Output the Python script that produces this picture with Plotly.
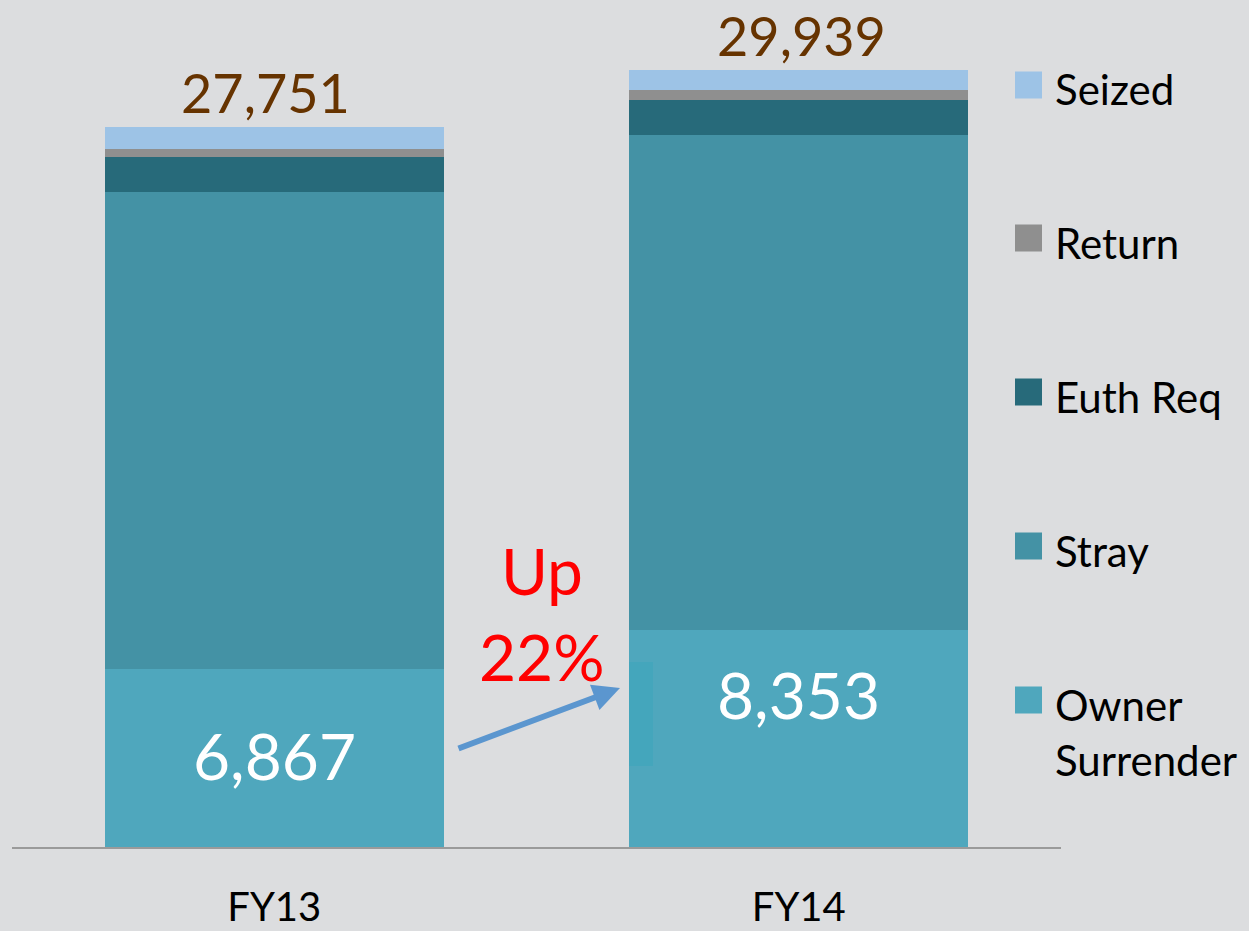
import plotly.graph_objects as go

# ---- data ----
categories = ["FY13", "FY14"]
owner_surrender = [6867, 8353]
stray = [18380, 19081]
euth_req = [1349, 1361]
returned = [285, 373]
seized = [870, 771]
totals = [27751, 29939]
series_names = ["Owner<br>Surrender", "Stray", "Euth Req", "Return", "Seized"]
series_values = [owner_surrender, stray, euth_req, returned, seized]
series_colors = ["#4FA7BD", "#4492A5", "#276A7A", "#8F8F8F", "#9DC3E6"]
change_label = ["Up", "22%"]

# ---- geometry ----
W, H = 1249, 931
ML, MR, MT, MB = 12, 188, 20, 84
PW, PH = W - ML - MR, H - MT - MB
YMAX = PH * 38.53

def py2y(py):
    return (H - MB - py) / PH * YMAX

def px2x(px):
    return (px - ML) / PW * 2 - 0.5

def pxp(px):
    return (px - ML) / PW

def pyp(py):
    return (H - MB - py) / PH

FONT = "Lato, 'Open Sans', sans-serif"

fig = go.Figure()
for name, vals, col in zip(series_names, series_values, series_colors):
    fig.add_trace(go.Bar(x=categories, y=vals, name=name.replace("<br>", " "),
                         marker=dict(color=col, line=dict(width=0)),
                         showlegend=False, hoverinfo="name+y"))

annotations = []
shapes = []

# totals above bars
total_xshift = [-9, 3]
for c, t, xs in zip(categories, totals, total_xshift):
    annotations.append(dict(x=c, y=t, xref="x", yref="y", text=f"{t:,}",
                            showarrow=False, yanchor="bottom", yshift=0, xshift=xs,
                            font=dict(family=FONT, size=54, color="#663300")))

# values inside owner surrender segment
inside_py = [755, 694]
for c, v, p in zip(categories, owner_surrender, inside_py):
    annotations.append(dict(x=c, y=py2y(p), xref="x", yref="y", text=f"{v:,}",
                            showarrow=False, yanchor="middle",
                            font=dict(family=FONT, size=64, color="white")))

# Up 22%
annotations.append(dict(x=px2x(542), y=py2y(570), xref="x", yref="y", text=change_label[0],
                        showarrow=False, font=dict(family=FONT, size=64, color="#FF0000")))
annotations.append(dict(x=px2x(542), y=py2y(656), xref="x", yref="y", text=change_label[1],
                        showarrow=False, font=dict(family=FONT, size=64, color="#FF0000")))

# arrow
annotations.append(dict(x=px2x(620), y=py2y(688), ax=px2x(457), ay=py2y(749),
                        xref="x", yref="y", axref="x", ayref="y", text="",
                        showarrow=True, arrowhead=2, arrowsize=0.9, arrowwidth=6,
                        arrowcolor="#5B96CF"))

# stray teal rectangle
shapes.append(dict(type="rect", xref="paper", yref="paper",
                   x0=pxp(629), x1=pxp(653), y0=pyp(766), y1=pyp(662),
                   fillcolor="#44A6BC", line=dict(width=0), layer="above"))

# manual legend
legend_py = [85, 238, 392, 546, 700]
legend_text_py = [89, 243, 397, 551, 732]
leg_names = ["Seized", "Return", "Euth Req", "Stray", "Owner<br>Surrender"]
leg_cols = ["#9DC3E6", "#8F8F8F", "#276A7A", "#4492A5", "#4FA7BD"]
for name, col, sy, ty in zip(leg_names, leg_cols, legend_py, legend_text_py):
    shapes.append(dict(type="rect", xref="paper", yref="paper",
                       x0=pxp(1015), x1=pxp(1042), y0=pyp(sy + 13.5), y1=pyp(sy - 13.5),
                       fillcolor=col, line=dict(width=0)))
    annotations.append(dict(x=pxp(1053), y=pyp(ty), xref="paper", yref="paper",
                            text=name, showarrow=False, xanchor="left", yanchor="middle",
                            align="left",
                            font=dict(family=FONT, size=42, color="black")))

fig.update_layout(
    width=W, height=H,
    margin=dict(l=ML, r=MR, t=MT, b=MB, autoexpand=False),
    barmode="stack", bargap=0.353,
    paper_bgcolor="#DCDDDF", plot_bgcolor="rgba(0,0,0,0)",
    annotations=annotations, shapes=shapes,
    xaxis=dict(range=[-0.5, 1.5], showline=True, linecolor="#9A9A9A", linewidth=2,
               showgrid=False, zeroline=False, ticks="", automargin=False,
               tickfont=dict(family=FONT, size=40, color="black"),
               ticklabelstandoff=24),
    yaxis=dict(range=[0, YMAX], visible=False, showgrid=False, automargin=False),
    showlegend=False,
)

fig.write_html("out.html",
               config={"displayModeBar": False},
               post_script="document.body.style.margin='0px';document.body.style.overflow='hidden';document.body.style.background='#DCDDDF';")
